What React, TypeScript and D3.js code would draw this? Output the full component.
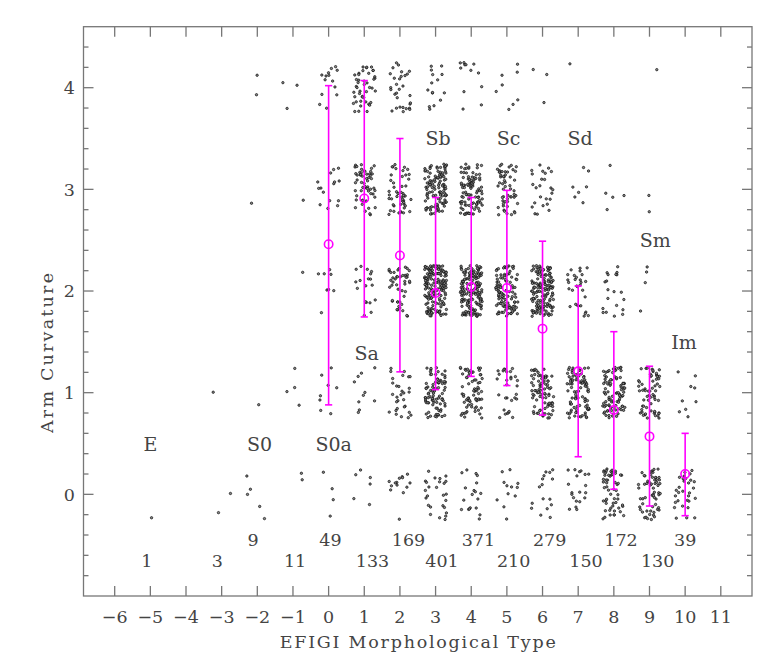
import React from 'react';
import * as d3 from 'd3';

// EFIGI morphological types shown and number of galaxies per arm-curvature level (0..4)
const types = [-5, -4, -3, -2, -1, 0, 1, 2, 3, 4, 5, 6, 7, 8, 9, 10];
const curvLevels = [0, 1, 2, 3, 4];
const cellCounts = [
  [1, 0, 0, 0, 0],
  [0, 0, 0, 0, 0],
  [2, 1, 0, 0, 0],
  [5, 1, 0, 1, 2],
  [2, 4, 1, 1, 3],
  [4, 8, 8, 15, 14],
  [6, 10, 18, 55, 44],
  [14, 30, 45, 50, 30],
  [26, 85, 160, 115, 15],
  [19, 70, 170, 100, 12],
  [12, 30, 105, 55, 8],
  [16, 85, 150, 25, 3],
  [20, 92, 30, 7, 1],
  [55, 92, 20, 5, 0],
  [60, 63, 4, 2, 1],
  [30, 9, 0, 0, 0],
];

// mean and dispersion bars
const barTypes = [0, 1, 2, 3, 4, 5, 6, 7, 8, 9, 10];
const barMeans = [2.46, 2.91, 2.35, 1.98, 2.04, 2.03, 1.63, 1.21, 0.83, 0.57, 0.2];
const barHigh = [4.02, 4.07, 3.5, 2.92, 2.92, 2.99, 2.49, 2.05, 1.6, 1.26, 0.6];
const barLow = [0.88, 1.745, 1.205, 1.03, 1.16, 1.07, 0.78, 0.37, 0.05, -0.115, -0.21];

// class names
const classNames = ['E', 'S0', 'S0a', 'Sa', 'Sb', 'Sc', 'Sd', 'Sm', 'Im'];
const classX = [-5.0, -1.94, 0.14, 1.07, 3.07, 5.05, 7.05, 9.16, 9.97];
const classY = [0.49, 0.49, 0.49, 1.39, 3.5, 3.5, 3.5, 2.5, 1.5];

// counts per type, two rows
const countRow1 = ['9', '49', '169', '371', '279', '172', '39'];
const countRow1X = [-2.12, 0.05, 2.24, 4.2, 6.2, 8.2, 10.0];
const countRow2 = ['1', '3', '11', '133', '401', '210', '150', '130'];
const countRow2X = [-5.1, -3.12, -0.94, 1.23, 3.18, 5.19, 7.22, 9.23];
const countRowY = [-0.45, -0.655];

const xTicks = d3.range(-6, 12);
const yMajor = [0, 1, 2, 3, 4];
const yMinor = d3.range(-0.8, 4.6, 0.2).map((v) => Math.round(v * 10) / 10);

const W = 764;
const H = 671;
const left = 83.5, right = 752, top = 26.7, bottom = 596;

const x = d3.scaleLinear().domain([-6.875, 11.875]).range([left, right]);
const y = d3.scaleLinear().domain([-1, 4.6]).range([bottom, top]);

function hash(n: number) {
  const s = Math.sin(n * 12.9898 + 78.233) * 43758.5453;
  return s - Math.floor(s);
}

const FONT = 'DejaVu Serif';
const TXT = '#444';
const AX = '#777';

export default function App() {
  const pts: { px: number; py: number; k: string }[] = [];
  let seed = 1;
  types.forEach((t, ti) => {
    curvLevels.forEach((lv, li) => {
      const n = cellCounts[ti][li];
      for (let i = 0; i < n; i++) {
        const jx = (hash(seed * 3.1) - 0.5) * 0.62;
        const jy = (hash(seed * 7.7 + 0.5) - 0.5) * 0.5;
        seed++;
        pts.push({ px: x(t + jx), py: y(lv + jy), k: `${t}_${lv}_${i}` });
      }
    });
  });

  const fs = 17.5;
  const cap = 0.73;

  return (
    <svg
      width={W}
      height={H}
      style={{ position: 'absolute', left: 0, top: 0, background: '#fff' }}
      fontFamily={FONT}
    >
      <rect x={0} y={0} width={W} height={H} fill="#fff" />
      {/* points */}
      <g>
        {pts.map((p) => (
          <circle key={p.k} cx={p.px} cy={p.py} r={1.2} fill="#888" stroke="#000" strokeWidth={0.65} />
        ))}
      </g>
      {/* error bars */}
      <g stroke="#ff00ff" strokeWidth={1.6} fill="none">
        {barTypes.map((t, i) => (
          <g key={t}>
            <line x1={x(t)} x2={x(t)} y1={y(barLow[i])} y2={y(barHigh[i])} />
            <line x1={x(t) - 3.6} x2={x(t) + 3.6} y1={y(barLow[i])} y2={y(barLow[i])} />
            <line x1={x(t) - 3.6} x2={x(t) + 3.6} y1={y(barHigh[i])} y2={y(barHigh[i])} />
            <circle cx={x(t)} cy={y(barMeans[i])} r={4.2} fill="none" />
          </g>
        ))}
      </g>
      {/* frame and ticks */}
      <g stroke={AX} strokeWidth={1.3}>
        <rect x={left} y={top} width={right - left} height={bottom - top} fill="none" />
        {xTicks.map((t) => (
          <g key={t}>
            <line x1={x(t)} x2={x(t)} y1={bottom} y2={bottom - 10} />
            <line x1={x(t)} x2={x(t)} y1={top} y2={top + 10} />
          </g>
        ))}
        {yMajor.map((v) => (
          <g key={v}>
            <line x1={left} x2={left + 10} y1={y(v)} y2={y(v)} />
            <line x1={right} x2={right - 10} y1={y(v)} y2={y(v)} />
          </g>
        ))}
        {yMinor
          .filter((v) => !yMajor.includes(v))
          .map((v) => (
            <g key={v}>
              <line x1={left} x2={left + 5} y1={y(v)} y2={y(v)} />
              <line x1={right} x2={right - 5} y1={y(v)} y2={y(v)} />
            </g>
          ))}
      </g>
      {/* tick labels */}
      <g fill={TXT} fontSize={fs}>
        {xTicks.map((t) => (
          <text key={t} x={x(t)} y={623} textAnchor="middle">
            {t < 0 ? '\u2212' + Math.abs(t) : String(t)}
          </text>
        ))}
        {yMajor.map((v) => (
          <text key={v} x={75} y={y(v) + (fs * cap) / 2} textAnchor="end">
            {String(v)}
          </text>
        ))}
      </g>
      {/* axis titles */}
      <text x={(left + right) / 2} y={648} textAnchor="middle" fill={TXT} fontSize={fs} textLength={276} lengthAdjust="spacing">
        EFIGI Morphological Type
      </text>
      <text
        transform={`translate(53.3, ${353}) rotate(-90)`}
        textAnchor="middle"
        fill={TXT}
        fontSize={fs}
        textLength={160}
        lengthAdjust="spacing"
      >
        Arm Curvature
      </text>
      {/* class labels */}
      <g fill={TXT} fontSize={19}>
        {classNames.map((c, i) => (
          <text key={c} x={x(classX[i])} y={y(classY[i]) + (19 * cap) / 2} textAnchor="middle">
            {c}
          </text>
        ))}
      </g>
      {/* counts */}
      <g fill={TXT} fontSize={fs}>
        {countRow1.map((c, i) => (
          <text key={'a' + i} x={x(countRow1X[i])} y={y(countRowY[0]) + (fs * cap) / 2} textAnchor="middle">
            {c}
          </text>
        ))}
        {countRow2.map((c, i) => (
          <text key={'b' + i} x={x(countRow2X[i])} y={y(countRowY[1]) + (fs * cap) / 2} textAnchor="middle">
            {c}
          </text>
        ))}
      </g>
    </svg>
  );
}
